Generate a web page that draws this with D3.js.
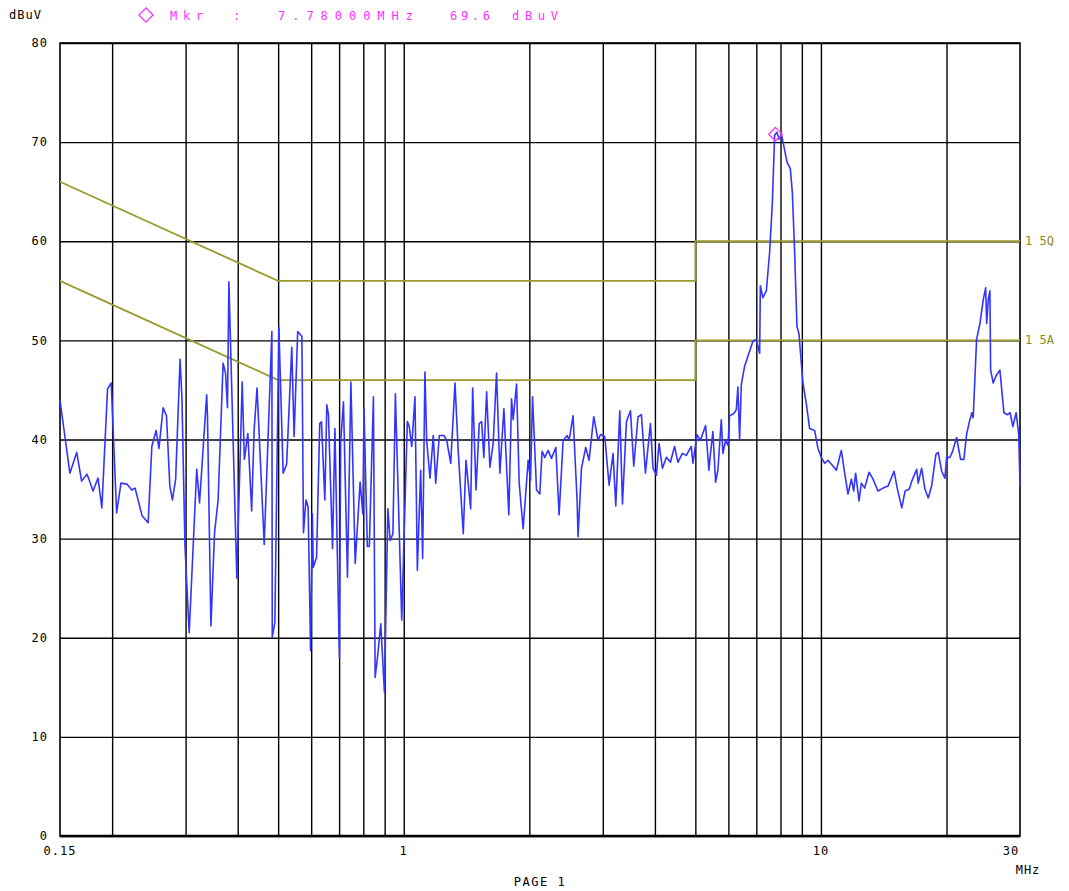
<!DOCTYPE html>
<html>
<head>
<meta charset="utf-8">
<script src="https://cdn.jsdelivr.net/npm/d3@7"></script>
<style>
  body { margin: 0; background: #fff; }
  text { font-family: "DejaVu Sans Mono", monospace; }
</style>
</head>
<body>
<div id="chart"></div>
<script>
// Scan data: frequency (MHz) and level (dBuV)
const freqMHz = [
  0.150, 0.1514, 0.1584, 0.1645, 0.169, 0.174, 0.176, 0.180, 0.185, 0.189,
  0.195, 0.199, 0.205, 0.210, 0.217, 0.223, 0.227, 0.236, 0.244, 0.249,
  0.255, 0.259, 0.265, 0.270, 0.275, 0.279, 0.284, 0.291, 0.294, 0.299,
  0.306, 0.319, 0.324, 0.337, 0.3385, 0.345, 0.352, 0.359, 0.369, 0.374,
  0.378, 0.381, 0.398, 0.410, 0.415, 0.423, 0.432, 0.438, 0.445, 0.463,
  0.483, 0.484, 0.491, 0.502, 0.514, 0.524, 0.539, 0.546, 0.557, 0.570,
  0.575, 0.583, 0.590, 0.598, 0.604, 0.607, 0.618, 0.629, 0.635, 0.647,
  0.654, 0.660, 0.675, 0.684, 0.701, 0.706, 0.717, 0.733, 0.747, 0.765,
  0.786, 0.798, 0.803, 0.818, 0.827, 0.846, 0.854, 0.865, 0.881, 0.899,
  0.916, 0.928, 0.942, 0.955, 0.989, 1.020, 1.031, 1.045, 1.064, 1.078,
  1.098, 1.110, 1.124, 1.135, 1.156, 1.177, 1.193, 1.217, 1.249, 1.268,
  1.296, 1.327, 1.351, 1.389, 1.410, 1.447, 1.463, 1.490, 1.517, 1.537,
  1.556, 1.580, 1.609, 1.638, 1.669, 1.700, 1.738, 1.786, 1.813, 1.829,
  1.864, 1.891, 1.933, 1.987, 2.013, 2.036, 2.081, 2.119, 2.146, 2.178,
  2.218, 2.260, 2.315, 2.357, 2.410, 2.464, 2.491, 2.546, 2.603, 2.617,
  2.667, 2.731, 2.781, 2.854, 2.923, 2.962, 3.033, 3.106, 3.175, 3.223,
  3.295, 3.344, 3.418, 3.495, 3.559, 3.644, 3.713, 3.796, 3.902, 3.958,
  4.033, 4.092, 4.169, 4.262, 4.357, 4.459, 4.541, 4.653, 4.757, 4.889,
  4.933, 5.044, 5.138, 5.291, 5.388, 5.430, 5.508, 5.591, 5.662, 5.770,
  5.821, 5.909, 5.984, 6.040, 6.175, 6.268, 6.323, 6.383, 6.443, 6.562,
  6.746, 6.870, 7.000, 7.130, 7.157, 7.260, 7.398, 7.534, 7.648, 7.745,
  7.844, 7.931, 8.037, 8.140, 8.290, 8.446, 8.540, 8.649, 8.760, 8.856,
  9.054, 9.226, 9.396, 9.659, 9.836, 10.02, 10.21, 10.39, 10.65, 10.89,
  11.19, 11.40, 11.61, 11.83, 11.98, 12.11, 12.34, 12.50, 12.73, 13.04,
  13.33, 13.70, 14.09, 14.48, 14.97, 15.25, 15.62, 15.91, 16.29, 16.51,
  16.96, 17.11, 17.43, 17.75, 18.08, 18.42, 18.86, 19.10, 19.47, 19.82,
  20.01, 20.38, 20.68, 21.14, 21.61, 22.01, 22.34, 22.66, 23.00, 23.17,
  23.61, 24.05, 24.49, 24.82, 24.96, 25.18, 25.41, 25.51, 25.88, 26.27,
  26.85, 27.45, 27.99, 28.41, 28.84, 29.21, 29.37, 29.79, 30.0
];
const levelDbuV = [
  44.0, 42.7, 36.6, 38.7, 35.8, 36.5, 36.0, 34.8, 36.1, 33.1,
  45.1, 45.7, 32.6, 35.6, 35.5, 34.9, 35.1, 32.3, 31.6, 39.3,
  40.9, 39.1, 43.2, 42.4, 35.3, 33.9, 36.0, 48.1, 44.2, 29.2,
  20.5, 37.0, 33.6, 44.5, 42.4, 21.2, 30.6, 33.9, 47.7, 46.7,
  43.2, 55.9, 26.0, 45.8, 38.0, 40.6, 32.8, 41.0, 45.2, 29.4,
  50.9, 20.1, 21.5, 51.3, 36.6, 37.5, 49.3, 40.3, 50.9, 50.4,
  30.6, 33.9, 33.2, 18.7, 32.5, 27.1, 28.1, 41.6, 41.8, 33.9,
  43.5, 42.5, 29.0, 41.1, 18.0, 39.6, 43.8, 26.1, 45.8, 27.5,
  35.7, 32.5, 43.1, 29.2, 29.2, 44.3, 16.0, 18.0, 21.4, 14.5,
  33.0, 29.8, 30.5, 44.6, 21.8, 41.8, 41.3, 39.3, 44.3, 26.8,
  36.9, 28.0, 46.8, 39.9, 36.1, 40.4, 35.6, 40.4, 40.4, 39.9,
  37.6, 45.7, 38.8, 30.5, 37.9, 33.0, 45.2, 34.9, 41.6, 41.8,
  38.2, 44.8, 37.2, 39.6, 46.7, 36.6, 43.1, 32.4, 44.1, 42.0,
  45.6, 35.6, 31.0, 37.9, 35.9, 44.3, 34.9, 34.5, 38.8, 38.2,
  38.9, 38.1, 39.2, 32.4, 39.9, 40.4, 39.9, 42.4, 33.9, 30.2,
  37.1, 39.2, 37.9, 42.3, 39.9, 40.5, 40.3, 35.4, 38.6, 33.3,
  42.9, 33.5, 41.8, 42.9, 37.3, 42.3, 42.5, 36.6, 41.6, 37.1,
  36.4, 39.6, 37.1, 38.2, 37.7, 39.3, 37.7, 38.6, 38.4, 39.3,
  37.6, 40.5, 39.9, 41.4, 36.9, 38.4, 40.8, 35.7, 36.9, 42.0,
  38.6, 39.9, 39.4, 42.4, 42.6, 43.0, 45.3, 40.0, 45.5, 47.4,
  48.9, 49.9, 50.1, 48.7, 55.5, 54.3, 55.0, 58.9, 63.9, 70.7,
  71.0, 70.3, 70.8, 69.7, 68.0, 67.3, 64.9, 58.9, 51.4, 50.7,
  45.7, 43.6, 41.1, 40.9, 39.1, 38.2, 37.6, 37.9, 37.4, 36.9,
  38.9, 36.6, 34.5, 36.0, 34.8, 36.6, 33.8, 35.6, 35.1, 36.7,
  36.0, 34.8, 35.1, 35.3, 36.8, 35.0, 33.1, 34.8, 35.0, 35.8,
  37.0, 35.6, 37.1, 35.0, 34.1, 35.3, 38.5, 38.7, 36.8, 36.1,
  38.2, 38.2, 38.8, 40.2, 38.0, 38.0, 40.5, 41.7, 42.7, 42.2,
  50.1, 51.7, 54.1, 55.3, 51.7, 54.1, 55.0, 47.0, 45.7, 46.4,
  47.0, 42.7, 42.5, 42.7, 41.3, 42.3, 42.7, 40.5, 35.3
];

// Limit lines (QP and AV)
const limitFreq = [0.15, 0.5, 5, 5, 30];
const limitQP = [66, 56, 56, 60, 60];
const limitAV = [56, 46, 46, 50, 50];
const limitNames = ['1 5Q', '1 5A'];

// Axes
const levelTicks = [0, 10, 20, 30, 40, 50, 60, 70, 80];
const freqGrid = [0.2, 0.3, 0.4, 0.5, 0.6, 0.7, 0.8, 0.9, 2, 3, 4, 5, 6, 7, 8, 9, 20];
const freqLabels = [0.15, 1, 10, 30];
const freqLabelText = ['0.15', '1', '10', '30'];

// Marker
const markerFreq = 7.78;
const markerText = ['Mkr', ':', '7.78000MHz', '69.6', 'dBuV'];

const W = 1069, H = 891;
const margin = { top: 43, right: 49, bottom: 55, left: 60 };
const w = W - margin.left - margin.right;
const h = H - margin.top - margin.bottom;

const BLUE = '#3434ff', OLIVE = '#9a9a2e', MAGENTA = '#ff30ff';

const svg = d3.select('#chart').append('svg')
  .attr('width', W).attr('height', H);
svg.append('rect').attr('width', W).attr('height', H).attr('fill', '#fff');

const g = svg.append('g').attr('transform', `translate(${margin.left},${margin.top})`);

const x = d3.scaleLog().domain([0.15, 30]).range([0, w]);
const y = d3.scaleLinear().domain([0, 80]).range([h, 0]);

// grid
g.append('g')
  .attr('transform', `translate(0,${h})`)
  .call(d3.axisBottom(x).tickValues(freqGrid.concat([1, 10])).tickSize(-h).tickFormat(''))
  .call(s => s.select('.domain').remove())
  .selectAll('line').attr('stroke', '#000').attr('stroke-width', 1.4);

g.append('g')
  .call(d3.axisLeft(y).tickValues(levelTicks).tickSize(-w).tickFormat(''))
  .call(s => s.select('.domain').remove())
  .selectAll('line').attr('stroke', '#000').attr('stroke-width', 1.4);

// frame
g.append('rect')
  .attr('width', w).attr('height', h)
  .attr('fill', 'none').attr('stroke', '#000').attr('stroke-width', 1.6);
g.append('line')
  .attr('x1', 0).attr('x2', w).attr('y1', y(0)).attr('y2', y(0))
  .attr('stroke', '#000').attr('stroke-width', 2.6);

// y labels
g.append('g').selectAll('text')
  .data(levelTicks).enter().append('text')
  .attr('x', -12).attr('y', d => y(d))
  .attr('dy', '0.35em')
  .attr('text-anchor', 'end')
  .attr('font-size', 12)
  .attr('letter-spacing', 1)
  .text(d => d);

// x labels
g.append('g').selectAll('text')
  .data(freqLabels).enter().append('text')
  .attr('x', (d, i) => x(d) + (i === 3 ? -9 : 0))
  .attr('y', h + 19)
  .attr('text-anchor', 'middle')
  .attr('font-size', 12)
  .attr('letter-spacing', 1)
  .text((d, i) => freqLabelText[i]);

svg.append('text').attr('x', 1028).attr('y', 874)
  .attr('text-anchor', 'middle').attr('font-size', 12).attr('letter-spacing', 1)
  .text('MHz');
svg.append('text').attr('x', 540).attr('y', 886)
  .attr('text-anchor', 'middle').attr('font-size', 12).attr('letter-spacing', 1.5)
  .text('PAGE 1');
svg.append('text').attr('x', 9).attr('y', 19)
  .attr('font-size', 12).attr('letter-spacing', 1)
  .text('dBuV');

// limit lines
const limitLine = d3.line().x((d, i) => x(limitFreq[i])).y(d => y(d));
[limitQP, limitAV].forEach((lv, k) => {
  g.append('path')
    .attr('d', limitLine(lv))
    .attr('fill', 'none')
    .attr('stroke', OLIVE)
    .attr('stroke-width', 1.8);
  g.append('text')
    .attr('x', w + 5).attr('y', y(lv[lv.length - 1]))
    .attr('dy', '0.3em')
    .attr('fill', '#8a8a1e')
    .attr('font-size', 12)
    .text(limitNames[k]);
});

// trace
const data = freqMHz.map((f, i) => ({ f, v: levelDbuV[i] }));
const line = d3.line().x(d => x(d.f)).y(d => y(d.v));
g.append('path')
  .datum(data)
  .attr('d', line)
  .attr('fill', 'none')
  .attr('stroke', BLUE)
  .attr('stroke-width', 1.6)
  .attr('stroke-linejoin', 'round');

// marker sits on the trace at the marker frequency
const bi = d3.bisector(d => d.f).left(data, markerFreq);
const a = data[bi - 1], b = data[bi];
const t = (Math.log(markerFreq) - Math.log(a.f)) / (Math.log(b.f) - Math.log(a.f));
const markerLevel = a.v + (b.v - a.v) * t;

const diamond = d3.symbol(d3.symbolSquare, 90);
g.append('path')
  .attr('d', diamond)
  .attr('transform', `translate(${x(markerFreq)},${y(markerLevel)}) rotate(45)`)
  .attr('fill', 'none').attr('stroke', MAGENTA).attr('stroke-width', 1.3);

// marker header
svg.append('path')
  .attr('d', d3.symbol(d3.symbolSquare, 100))
  .attr('transform', 'translate(146,15) rotate(45)')
  .attr('fill', 'none').attr('stroke', MAGENTA).attr('stroke-width', 1.3);

const headerX = [170, 233, 278, 450, 512];
const headerW = [33, 5, 135, 40, 46];
svg.append('g').selectAll('text')
  .data(markerText).enter().append('text')
  .attr('x', (d, i) => headerX[i])
  .attr('y', 20)
  .attr('fill', MAGENTA)
  .attr('font-size', 12)
  .attr('textLength', (d, i) => headerW[i])
  .attr('lengthAdjust', 'spacing')
  .text(d => d);
</script>
</body>
</html>
